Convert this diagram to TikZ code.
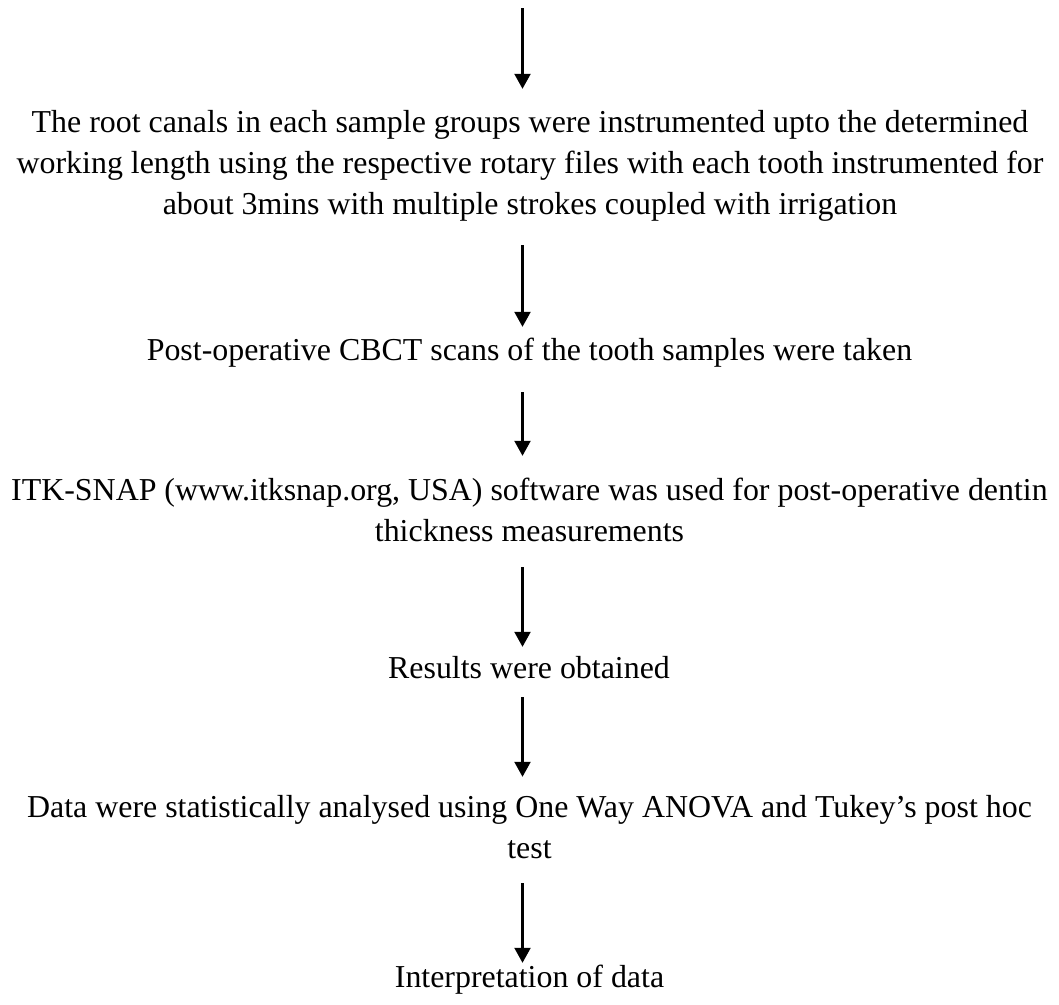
\documentclass[tikz,border=0pt]{standalone}
\usepackage{fontspec}
\setmainfont{Liberation Serif}
\usetikzlibrary{arrows.meta}

% one line of text: fixed height 28pt and depth 13pt, 41pt per line
\newcommand{\lineslot}{\rule[-13pt]{0pt}{41pt}}

\tikzset{
  steptext/.style={inner sep=0pt, align=center,
    font=\fontsize{31.9}{41}\selectfont},
  flow/.style={line width=2.2pt, -{Triangle[length=15pt,width=16pt]}},
}

\begin{document}
\begin{tikzpicture}[x=1pt,y=-1pt]
  \useasboundingbox (0,0) rectangle (1059,1004);

  % steps of the procedure
  \node[steptext] (s1) at (530,165.5)
    {\lineslot The root canals in each sample groups were instrumented upto the determined\\
     \lineslot working length using the respective rotary files with each tooth instrumented for\\
     \lineslot about 3mins with multiple strokes coupled with irrigation};
  \node[steptext] (s2) at (529.5,352.5)
    {\lineslot Post-operative CBCT scans of the tooth samples were taken};
  \node[steptext] (s3) at (529.5,513)
    {\lineslot ITK-SNAP (www.itksnap.org, USA) software was used for post-operative dentin\\
     \lineslot thickness measurements};
  \node[steptext] (s4) at (529,670.5)
    {\lineslot Results were obtained};
  \node[steptext] (s5) at (529.5,830)
    {\lineslot Data were statistically analysed using One Way ANOVA and Tukey’s post hoc\\
     \lineslot test};
  \node[steptext] (s6) at (529.5,979.5)
    {\lineslot Interpretation of data};

  % column of the arrows and the free upper end of the first one
  \coordinate (ax) at (522.5,0);
  \coordinate (top) at (522.5,8);

  \draw[flow, shorten >=15pt] (top) -- (s1.north -| ax);
  \draw[flow, shorten <=18pt, shorten >=5pt]  (s1.south -| ax) -- (s2.north -| ax);
  \draw[flow, shorten <=19pt, shorten >=16pt] (s2.south -| ax) -- (s3.north -| ax);
  \draw[flow, shorten <=13pt, shorten >=3pt]  (s3.south -| ax) -- (s4.north -| ax);
  \draw[flow, shorten <=6pt,  shorten >=12pt] (s4.south -| ax) -- (s5.north -| ax);
  \draw[flow, shorten <=12pt, shorten >=-4pt] (s5.south -| ax) -- (s6.north -| ax);
\end{tikzpicture}
\end{document}
